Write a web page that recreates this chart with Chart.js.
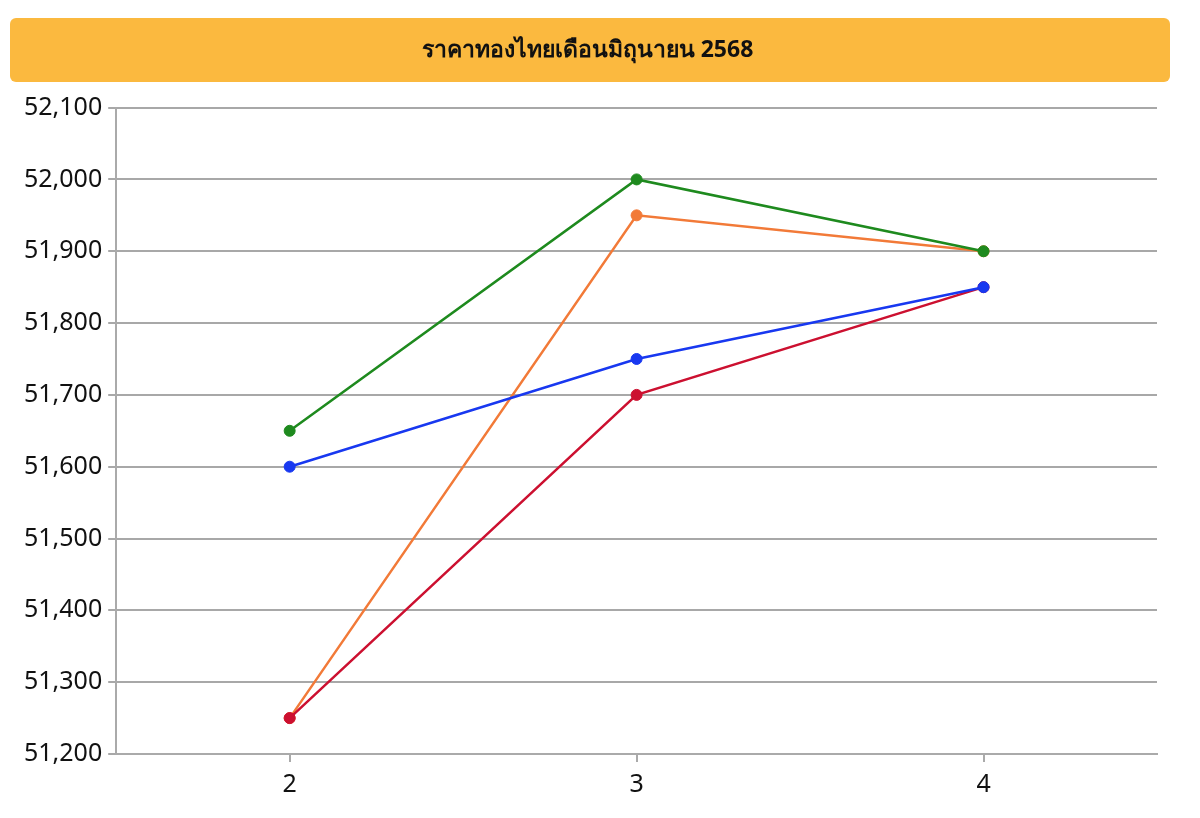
<!DOCTYPE html>
<html>
<head>
<meta charset="utf-8">
<script src="https://cdn.jsdelivr.net/npm/chart.js@4"></script>
<style>
  html, body { margin: 0; padding: 0; background: #fff; }
  #wrap { width: 1200px; height: 818px; }
</style>
</head>
<body>
<div id="wrap"><canvas id="goldChart"></canvas></div>
<script>
const days = ["2", "3", "4"];
const greenSeries = [51650, 52000, 51900];
const blueSeries = [51600, 51750, 51850];
const redSeries = [51250, 51700, 51850];
const orangeSeries = [51250, 51950, 51900];
const titleText = "ราคาทองไทยเดือนมิถุนายน 2568";

// orange rounded box behind the title
const titleBox = {
  id: "titleBox",
  beforeDraw(chart) {
    const t = chart.titleBlock;
    if (!t) return;
    const ctx = chart.ctx;
    ctx.save();
    ctx.fillStyle = "#FBB93F";
    ctx.beginPath();
    ctx.roundRect(10, t.top, chart.width - 40, t.height - 25.5, 6);
    ctx.fill();
    ctx.restore();
  },
};

const fontFam = "'Noto Sans', 'Open Sans', sans-serif";

const goldChart = new Chart(document.querySelector("#goldChart"), {
  type: "line",
  data: {
    labels: days,
    datasets: [
      { data: greenSeries, borderColor: "#1E8A1E", backgroundColor: "#1E8A1E" },
      { data: blueSeries, borderColor: "#1838F0", backgroundColor: "#1838F0" },
      { data: redSeries, borderColor: "#CC1030", backgroundColor: "#CC1030" },
      { data: orangeSeries, borderColor: "#F27A38", backgroundColor: "#F27A38" },
    ],
  },
  options: {
    responsive: true,
    maintainAspectRatio: false,
    animation: false,
    layout: { padding: { top: 18, left: 18, right: 43, bottom: 10 } },
    elements: {
      line: { borderWidth: 2.5, tension: 0 },
      point: { radius: 5.5, hoverRadius: 5.5 },
    },
    plugins: {
      legend: { display: false },
      tooltip: { enabled: false },
      title: {
        display: true,
        text: titleText,
        color: "#111",
        font: { family: fontFam, size: 23, weight: "bold" },
        padding: { top: 19, bottom: 43 },
      },
    },
    scales: {
      x: {
        offset: true,
        grid: { drawOnChartArea: false, drawTicks: true, tickLength: 8, color: "#aaa", lineWidth: 2 },
        border: { color: "#aaa", width: 2 },
        ticks: { color: "#111", font: { family: fontFam, size: 25 }, padding: 8 },
      },
      y: {
        min: 51200,
        max: 52100,
        ticks: {
          stepSize: 100,
          color: "#111",
          font: { family: fontFam, size: 25 },
          padding: 6,
          callback: (v) => v.toLocaleString("en-US"),
        },
        grid: { color: "#a8a8a8", lineWidth: 2, tickLength: 8 },
        border: { color: "#aaa", width: 2 },
      },
    },
  },
  plugins: [titleBox],
});
</script>
</body>
</html>
